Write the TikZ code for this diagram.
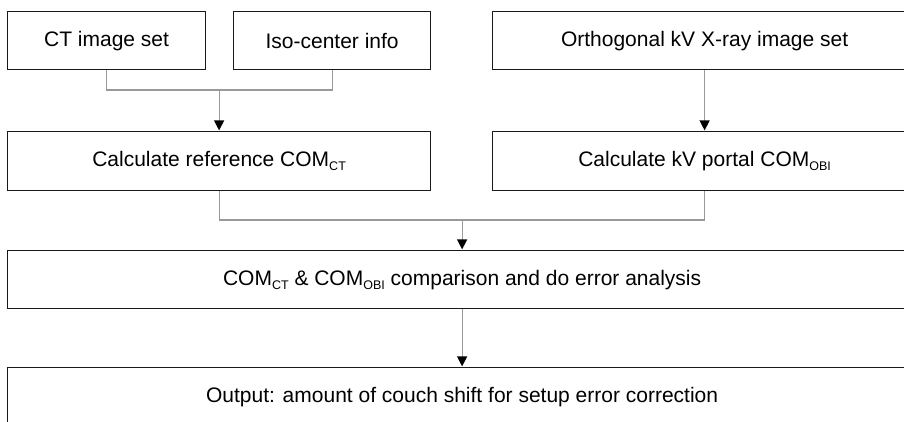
\documentclass[tikz,border=0pt]{standalone}
\usepackage{fontspec}
\setmainfont{Liberation Sans}
\usetikzlibrary{arrows.meta}
\newcommand{\mysub}[1]{\raisebox{-4pt}{\fontsize{12.5}{13}\selectfont #1}}
\tikzset{
  box/.style={draw=black!90, line width=1.2pt, fill=white, inner sep=0pt,
    font=\fontsize{21}{25}\selectfont, anchor=north west},
  conn/.style={draw=black!40, line width=1.2pt},
  arr/.style={conn, -{Triangle[width=10pt,length=10pt,color=black]}, shorten >=0.6pt},
}
\begin{document}
\begin{tikzpicture}[x=1pt,y=-1pt]
\useasboundingbox (0,0) rectangle (904,421);
\clip (0,0) rectangle (904,421);
\fill[white] (0,0) rectangle (904,421);

\node[box, minimum width=198pt, minimum height=58pt] (ct) at (7,11) {CT image set};
\node[box, minimum width=197pt, minimum height=58pt] (iso) at (233,11) {Iso-center info};
\node[box, minimum width=424pt, minimum height=58pt] (ortho) at (492,11) {Orthogonal kV X-ray image set};

\node[box, minimum width=423pt, minimum height=59pt] (ref) at (7,131) {Calculate reference COM\mysub{CT}};
\node[box, minimum width=424pt, minimum height=59pt] (kv) at (492,131) {Calculate kV portal COM\mysub{OBI}};

\node[box, minimum width=909pt, minimum height=58pt] (com) at (7,250) {COM\mysub{CT} \& COM\mysub{OBI} comparison and do error analysis};

\node[box, minimum width=909pt, minimum height=58pt] (out) at (7,367) {Output: amount of couch shift for setup error correction};

\path (0,90) coordinate (h1) (0,220) coordinate (h2);
\coordinate (j1) at (ref.north |- h1);
\coordinate (j2) at (com.north |- h2);

\draw[conn] (ct.south) |- (j1) -| (iso.south);
\draw[arr] (j1) -- (ref.north);
\draw[arr] (ortho.south) -- (kv.north);
\draw[conn] (ref.south) |- (j2) -| (kv.south);
\draw[arr] (j2) -- (com.north);
\draw[arr] (com.south) -- (out.north);
\end{tikzpicture}
\end{document}
